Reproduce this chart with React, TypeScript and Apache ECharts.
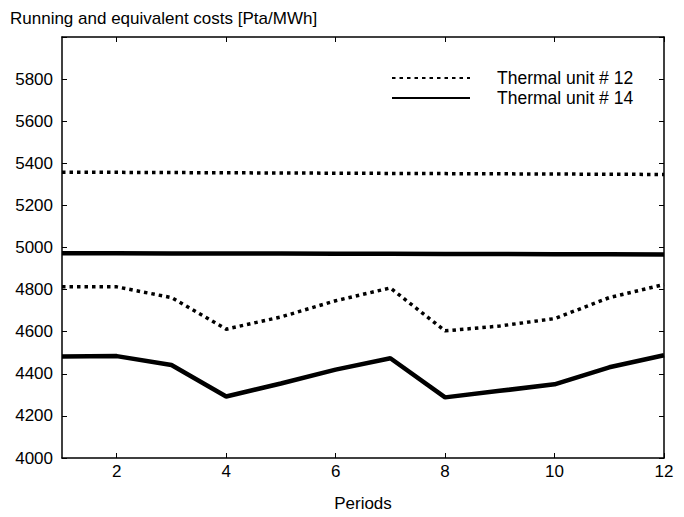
import React, { useEffect, useRef } from "react";
import * as echarts from "echarts";

const periods = [1, 2, 3, 4, 5, 6, 7, 8, 9, 10, 11, 12];
const unit12Equivalent = [5358, 5357, 5356, 5355, 5354, 5353, 5352, 5351, 5350, 5349, 5348, 5347];
const unit12Running = [4813, 4813, 4762, 4612, 4670, 4747, 4808, 4604, 4627, 4662, 4762, 4824];
const unit14Equivalent = [4973, 4973, 4972, 4972, 4971, 4970, 4970, 4969, 4969, 4968, 4968, 4967];
const unit14Running = [4482, 4484, 4442, 4292, 4354, 4420, 4474, 4288, 4319, 4350, 4431, 4488];
const xTicks = [2, 4, 6, 8, 10, 12];
const seriesNames = ["Thermal unit # 12", "Thermal unit # 14"];
const titleText = "Running and equivalent costs [Pta/MWh]";
const xName = "Periods";

const FONT = "'Liberation Sans', Arial, sans-serif";

export default function App() {
  const ref = useRef<HTMLDivElement>(null);
  useEffect(() => {
    if (!ref.current) return;
    const chart = echarts.init(ref.current, null, { renderer: "svg" });
    const pair = (ys: number[]) => periods.map((p, i) => [p, ys[i]]);
    const dotted = { color: "#000", width: 3.5, type: [3.5, 4] as any, cap: "butt" as const };
    const solid = { color: "#000", width: 4.5 };
    const tickCommon = { inside: true, length: 5, lineStyle: { color: "#000", width: 1 } };
    chart.setOption({
      animation: false,
      backgroundColor: "#fff",
      textStyle: { fontFamily: FONT, color: "#000" },
      title: {
        text: titleText,
        left: 5,
        top: 5,
        textStyle: { fontFamily: FONT, fontSize: 17, fontWeight: "normal", color: "#000" },
      },
      legend: {
        orient: "vertical",
        left: 386,
        top: 64,
        itemWidth: 78,
        itemHeight: 14,
        itemGap: 2,
        data: seriesNames,
        itemStyle: { opacity: 0 },
        textStyle: { fontFamily: FONT, fontSize: 17.5, color: "#000", padding: [0, 0, 0, 22] },
      },
      grid: { left: 62, right: 20, top: 37, bottom: 47, containLabel: false },
      xAxis: [
        {
          type: "value",
          min: 1,
          max: 12,
          position: "bottom",
          name: xName,
          nameLocation: "middle",
          nameGap: 37,
          nameTextStyle: { fontFamily: FONT, fontSize: 17, color: "#000" },
          axisLine: { show: true, lineStyle: { color: "#000", width: 1.5 } },
          axisTick: { ...tickCommon, customValues: xTicks },
          axisLabel: { customValues: xTicks, fontFamily: FONT, fontSize: 17, color: "#000", margin: 5 },
          splitLine: { show: false },
        },
        {
          type: "value",
          min: 1,
          max: 12,
          position: "top",
          axisLine: { show: true, lineStyle: { color: "#000", width: 1.5 } },
          axisTick: { ...tickCommon, customValues: xTicks },
          axisLabel: { show: false },
          splitLine: { show: false },
        },
      ],
      yAxis: [
        {
          type: "value",
          min: 4000,
          max: 6000,
          interval: 200,
          position: "left",
          axisLine: { show: true, lineStyle: { color: "#000", width: 1.5 } },
          axisTick: tickCommon,
          axisLabel: {
            fontFamily: FONT,
            fontSize: 17,
            color: "#000",
            margin: 9,
            formatter: (v: number) => (v === 6000 ? "" : String(v)),
          },
          splitLine: { show: false },
        },
        {
          type: "value",
          min: 4000,
          max: 6000,
          interval: 200,
          position: "right",
          axisLine: { show: true, lineStyle: { color: "#000", width: 1.5 } },
          axisTick: tickCommon,
          axisLabel: { show: false },
          splitLine: { show: false },
        },
      ],
      series: [
        { name: seriesNames[0], type: "line", symbol: "none", data: pair(unit12Equivalent), lineStyle: dotted, itemStyle: { color: "#000" } },
        { name: seriesNames[0], type: "line", symbol: "none", data: pair(unit12Running), lineStyle: dotted, itemStyle: { color: "#000" } },
        { name: seriesNames[1], type: "line", symbol: "none", data: pair(unit14Equivalent), lineStyle: solid, itemStyle: { color: "#000" } },
        { name: seriesNames[1], type: "line", symbol: "none", data: pair(unit14Running), lineStyle: solid, itemStyle: { color: "#000" } },
      ],
    });
    return () => chart.dispose();
  }, []);
  return (
    <div
      ref={ref}
      style={{ position: "fixed", left: 0, top: 0, width: 684, height: 517, background: "#fff" }}
    />
  );
}
